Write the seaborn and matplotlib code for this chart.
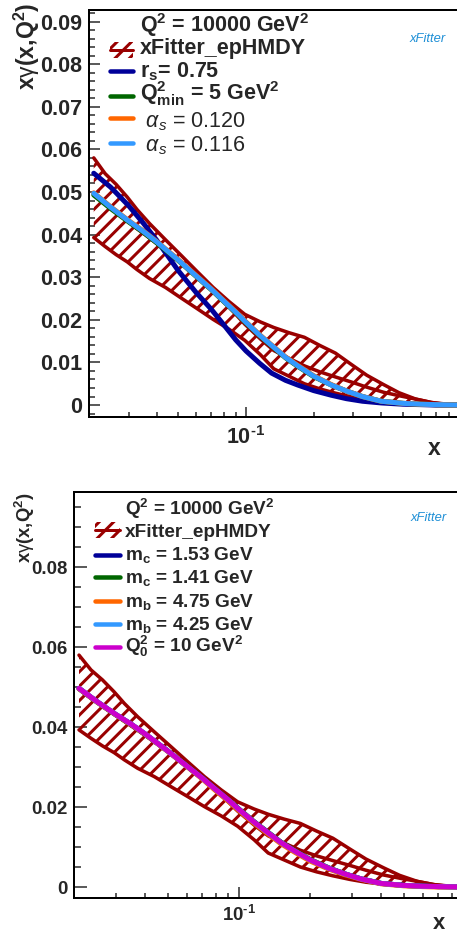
import matplotlib
matplotlib.use("Agg")
import matplotlib.pyplot as plt
import seaborn as sns
from matplotlib import ticker
from matplotlib.lines import Line2D
from matplotlib.patches import Rectangle

# ---- data (x, x*gamma(x,Q^2) at Q^2 = 10000 GeV^2) ----
x_band = [0.021, 0.0236, 0.0264, 0.0296, 0.0327, 0.0372, 0.0438, 0.0515, 0.0607, 0.0714,
          0.084, 0.0987, 0.116, 0.133, 0.155, 0.182, 0.213, 0.25, 0.295, 0.345,
          0.41, 0.48, 0.57, 0.67, 0.79, 0.9]
band_upper = [0.0580, 0.0543, 0.0518, 0.0488, 0.0459, 0.0426, 0.0388, 0.0351, 0.0313, 0.0276,
              0.0243, 0.0213, 0.0195, 0.0182, 0.0170, 0.0159, 0.0140, 0.0122, 0.0095, 0.0070,
              0.0048, 0.0029, 0.0014, 0.0006, 0.0002, 0.0000]
band_lower = [0.0393, 0.0372, 0.0353, 0.0336, 0.0318, 0.0297, 0.0276, 0.0251, 0.0226, 0.0201,
              0.0178, 0.0152, 0.0118, 0.0085, 0.0068, 0.0050, 0.0038, 0.0028, 0.0019, 0.0012,
              0.0007, 0.0004, 0.0002, 0.0000, 0.0000, 0.0000]
band_central = [0.0495, 0.0472, 0.0452, 0.0432, 0.0414, 0.0392, 0.0363, 0.0333, 0.0301, 0.0268,
                0.0230, 0.0190, 0.0155, 0.0128, 0.0110, 0.0092, 0.0078, 0.0066, 0.0054, 0.0042,
                0.0030, 0.0022, 0.0014, 0.0006, 0.0001, 0.0000]

x_curve = [0.021, 0.025, 0.03, 0.035, 0.04, 0.05, 0.06, 0.07, 0.08, 0.09,
           0.10, 0.115, 0.13, 0.15, 0.17, 0.2, 0.24, 0.28, 0.33, 0.4,
           0.5, 0.6, 0.7, 0.9]

# top panel variations
rs_075 = [0.0544, 0.0511, 0.0468, 0.0426, 0.0387, 0.0315, 0.0264, 0.0225, 0.0187, 0.0153,
          0.0127, 0.0098, 0.0075, 0.0058, 0.0047, 0.0034, 0.0023, 0.0015, 0.0009, 0.0005,
          0.0002, 0.0001, 0.0000, 0.0000]
qmin_5 = [0.0493, 0.0461, 0.0430, 0.0405, 0.0381, 0.0339, 0.0302, 0.0271, 0.0242, 0.0217,
          0.0193, 0.0163, 0.0139, 0.0111, 0.0091, 0.0067, 0.0047, 0.0033, 0.0020, 0.0009,
          0.0004, 0.0002, 0.0001, 0.0000]
as_0120 = [0.0498, 0.0465, 0.0433, 0.0408, 0.0384, 0.0341, 0.0304, 0.0273, 0.0244, 0.0219,
           0.0195, 0.0165, 0.0141, 0.0113, 0.0093, 0.0069, 0.0048, 0.0033, 0.0020, 0.0009,
           0.0004, 0.0002, 0.0001, 0.0000]
as_0116 = [0.0497, 0.0464, 0.0432, 0.0407, 0.0383, 0.0340, 0.0303, 0.0272, 0.0243, 0.0218,
           0.0194, 0.0164, 0.0140, 0.0112, 0.0092, 0.0068, 0.0047, 0.0033, 0.0020, 0.0009,
           0.0004, 0.0002, 0.0001, 0.0000]

# bottom panel variations
mc_153 = [0.0497, 0.0464, 0.0432, 0.0407, 0.0383, 0.0340, 0.0303, 0.0272, 0.0243, 0.0218,
          0.0194, 0.0164, 0.0140, 0.0112, 0.0092, 0.0068, 0.0047, 0.0033, 0.0020, 0.0009,
          0.0004, 0.0002, 0.0001, 0.0000]
mc_141 = [0.0496, 0.0463, 0.0431, 0.0406, 0.0382, 0.0340, 0.0303, 0.0272, 0.0243, 0.0218,
          0.0195, 0.0165, 0.0141, 0.0113, 0.0093, 0.0069, 0.0048, 0.0033, 0.0020, 0.0009,
          0.0004, 0.0002, 0.0001, 0.0000]
mb_475 = [0.0496, 0.0463, 0.0431, 0.0406, 0.0382, 0.0339, 0.0302, 0.0270, 0.0240, 0.0215,
          0.0191, 0.0161, 0.0137, 0.0109, 0.0089, 0.0065, 0.0045, 0.0031, 0.0019, 0.0008,
          0.0003, 0.0001, 0.0000, 0.0000]
mb_425 = [0.0497, 0.0464, 0.0432, 0.0407, 0.0383, 0.0340, 0.0303, 0.0272, 0.0243, 0.0218,
          0.0194, 0.0164, 0.0140, 0.0112, 0.0092, 0.0068, 0.0047, 0.0033, 0.0020, 0.0009,
          0.0004, 0.0002, 0.0001, 0.0000]
q0_10 = [0.0497, 0.0464, 0.0432, 0.0407, 0.0383, 0.0340, 0.0303, 0.0272, 0.0243, 0.0218,
         0.0194, 0.0164, 0.0140, 0.0112, 0.0092, 0.0068, 0.0047, 0.0033, 0.0020, 0.0009,
         0.0004, 0.0002, 0.0001, 0.0000]

DARKRED = "#990000"
top_series = [(rs_075, "#000099", r"$r_{s}$= 0.75", "bold"),
              (qmin_5, "#006600", r"$Q^{2}_{min}$ = 5 GeV$^{2}$", "bold"),
              (as_0120, "#ff6600", r" $\mathit{\alpha_{s}}$ = 0.120", "normal"),
              (as_0116, "#3399ff", r" $\mathit{\alpha_{s}}$ = 0.116", "normal")]
bot_series = [(mc_153, "#000099", r"$m_{c}$ = 1.53 GeV", "bold"),
              (mc_141, "#006600", r"$m_{c}$ = 1.41 GeV", "bold"),
              (mb_475, "#ff6600", r"$m_{b}$ = 4.75 GeV", "bold"),
              (mb_425, "#3399ff", r"$m_{b}$ = 4.25 GeV", "bold"),
              (q0_10, "#cc00cc", r"$Q^{2}_{0}$ = 10 GeV$^{2}$", "bold")]
header = r"Q$^{2}$ = 10000 GeV$^{2}$"
band_label = "xFitter_epHMDY"

# ---- layout helpers (reference pixel -> figure fraction) ----
W, H, DPI = 457, 934, 130


def fx(px):
    return px / W


def fy(py):
    return 1 - py / H


def pt(px):
    return px * 72 / DPI


sns.set_style("ticks")
plt.rcParams.update({
    "font.family": ["Liberation Sans", "DejaVu Sans"],
    "font.weight": "bold",
    "mathtext.fontset": "custom",
    "mathtext.rm": "Liberation Sans:bold",
    "mathtext.bf": "Liberation Sans:bold",
    "mathtext.it": "Liberation Sans:italic:normal",
    "mathtext.sf": "Liberation Sans:normal",
    "mathtext.default": "rm",
    "hatch.linewidth": pt(3),
    "hatch.color": DARKRED,
    "axes.linewidth": pt(2),
    "axes.edgecolor": "black",
})

fig = plt.figure(figsize=(W / DPI, H / DPI), dpi=DPI)
ax_top = fig.add_axes([fx(89), fy(417), 381.6 / W, 407 / H])
ax_bot = fig.add_axes([fx(74), fy(898), 401 / W, 406 / H])

HATCH = "///"


def draw_panel(ax, series, ylim, ymaj, ymin, fs, ylen, xlen, ypad, xpad):
    ax.fill_between(x_band, band_lower, band_upper, facecolor="none", edgecolor=DARKRED,
                    hatch=HATCH, linewidth=0)
    for arr in (band_upper, band_lower, band_central):
        sns.lineplot(x=x_band, y=arr, ax=ax, color=DARKRED, lw=pt(3.5), legend=False)
    for vals, col, _, _ in series:
        sns.lineplot(x=x_curve, y=vals, ax=ax, color=col, lw=pt(5), legend=False)
    ax.set_xscale("log")
    ax.set_xlim(0.02, 1.0)
    ax.set_ylim(*ylim)
    ax.xaxis.set_major_locator(ticker.FixedLocator([0.1]))
    ax.xaxis.set_major_formatter(ticker.FuncFormatter(lambda v, p: r"$10^{\text{-}1}$"))
    ax.xaxis.set_minor_locator(ticker.LogLocator(base=10, subs=range(2, 10)))
    ax.xaxis.set_minor_formatter(ticker.NullFormatter())
    ax.yaxis.set_major_locator(ticker.MultipleLocator(ymaj))
    ax.yaxis.set_minor_locator(ticker.MultipleLocator(ymin))
    ax.yaxis.set_major_formatter(ticker.FuncFormatter(lambda v, p: f"{v:g}"))
    ax.set_xlabel("")
    ax.set_ylabel("")
    ax.spines["right"].set_visible(False)
    ax.tick_params(axis="both", which="both", direction="in", top=False, right=False,
                   width=pt(1.5), labelsize=fs)
    ax.tick_params(axis="y", which="major", length=pt(ylen), pad=pt(ypad))
    ax.tick_params(axis="y", which="minor", length=pt(ylen / 2))
    ax.tick_params(axis="x", which="major", length=pt(xlen), pad=pt(xpad))
    ax.tick_params(axis="x", which="minor", length=pt(xlen / 2))


draw_panel(ax_top, top_series, (-0.0028, 0.0927), 0.01, 0.002, pt(21.5), 11, 10, 7, 9)
draw_panel(ax_bot, bot_series, (-0.00275, 0.0988), 0.02, 0.005, pt(18.6), 13, 11, 6, 7)


def draw_key(series, hx0, hx1, tx, y_head, y_handles, y_texts, fs):
    fig.text(fx(tx), fy(y_head), header, fontsize=fs, ha="left", va="baseline")
    yc = y_handles[0]
    fig.add_artist(Rectangle((fx(hx0), fy(yc + 8)), (hx1 - hx0) / W, 16 / H,
                             transform=fig.transFigure, facecolor="none",
                             edgecolor=DARKRED, hatch=HATCH, lw=0))
    fig.add_artist(Line2D([fx(hx0), fx(hx1)], [fy(yc), fy(yc)], color=DARKRED,
                          lw=pt(3), transform=fig.transFigure))
    fig.text(fx(tx), fy(y_texts[0]), band_label, fontsize=fs, ha="left", va="baseline")
    for (vals, col, lab, wt), yh, yt in zip(series, y_handles[1:], y_texts[1:]):
        fig.add_artist(Line2D([fx(hx0), fx(hx1)], [fy(yh), fy(yh)], color=col,
                              lw=pt(4.5), transform=fig.transFigure))
        fig.text(fx(tx), fy(yt), lab, fontsize=fs, fontweight=wt, ha="left", va="baseline")


draw_key(top_series, 110, 133, 140, 32,
         [50, 71, 96, 118, 143], [54, 77, 100, 127, 151], pt(21.5))
draw_key(bot_series, 95, 120, 125, 515,
         [530, 555, 577, 601, 624, 647], [537, 560, 583, 607, 630, 652], pt(19))

# axis titles
ylab = r"x$\mathsf{\gamma}$(x,Q$^{2}$)"
fig.text(fx(27), fy(3), ylab, rotation=90, ha="center", va="top", fontsize=pt(23))
fig.text(fx(25), fy(492), ylab, rotation=90, ha="center", va="top", fontsize=pt(18.5))
fig.text(fx(434), fy(455), "x", ha="center", va="baseline", fontsize=pt(23))
fig.text(fx(439), fy(929), "x", ha="center", va="baseline", fontsize=pt(22))

# xFitter logo (text only)
for (lx, ly) in [(428, 39), (429, 518)]:
    fig.text(fx(lx), fy(ly), "xFitter", style="italic", fontweight="normal",
             color="#1e8fd6", fontsize=pt(13), ha="center", va="center")

fig.savefig("out.png", dpi=DPI)
